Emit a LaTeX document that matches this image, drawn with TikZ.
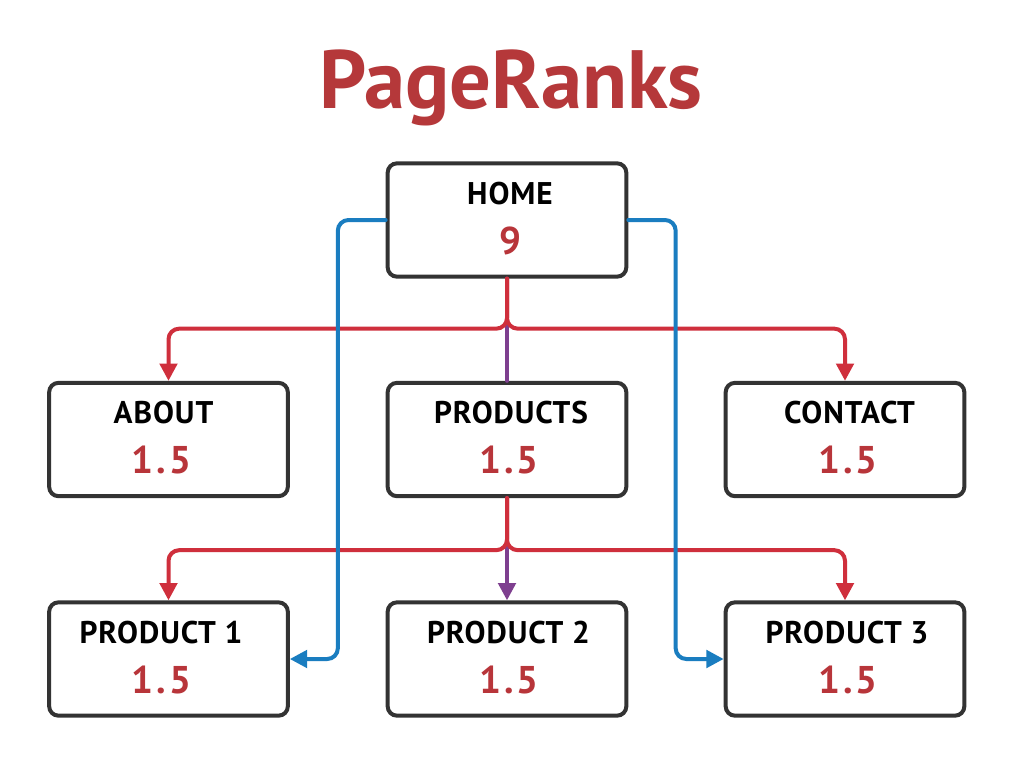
\documentclass[tikz,border=0pt]{standalone}
\usepackage{fontspec}
\setmainfont{PT Sans}
\newfontfamily\lblfont[LetterSpace=3]{PT Sans}
\newfontfamily\numfont[LetterSpace=8]{PT Sans}
\usetikzlibrary{arrows.meta,calc}
\definecolor{boxgray}{HTML}{333333}
\definecolor{titlered}{HTML}{B5383A}
\definecolor{numred}{HTML}{B8353A}
\definecolor{linered}{HTML}{CF2F3C}
\definecolor{lineblue}{HTML}{1A7DC0}
\definecolor{linepurple}{HTML}{7E3F8F}
\tikzset{
  pagebox/.style={draw=boxgray, line width=3pt, rounded corners=7pt, fill=white,
    minimum width=179pt, minimum height=85pt, inner sep=0pt},
  lbl/.style={anchor=base, inner sep=0pt, font=\lblfont\fontsize{23.5}{28}\selectfont\bfseries, text=black},
  num/.style={anchor=base, inner sep=0pt, font=\numfont\fontsize{29}{34}\selectfont\bfseries, text=numred},
  conn/.style={line width=3pt, rounded corners=8pt, line cap=round},
  tip/.style={-{Triangle[length=13pt,width=13pt]}},
  redline/.style={conn, draw=linered},
  blueline/.style={conn, draw=lineblue},
  purpleline/.style={conn, draw=linepurple},
}
\begin{document}
\begin{tikzpicture}[x=0.75pt,y=-0.75pt]
\useasboundingbox (0,0) rectangle (1024,764);
\fill[white] (0,0) rectangle (1024,764);

\node[anchor=base, inner sep=0pt, text=titlered, font=\fontsize{62}{70}\selectfont\bfseries] (title) at (511,108) {PageRanks};

\node[pagebox] (home) at (507,220) {};
\node[pagebox] (about) at (168.5,439.5) {};
\node[pagebox] (products) at (507,439.5) {};
\node[pagebox] (contact) at (845,439.5) {};
\node[pagebox] (p1) at (168.5,659) {};
\node[pagebox] (p2) at (507,659) {};
\node[pagebox] (p3) at (845,659) {};

\foreach \n/\t/\v/\dx/\nx in {home/HOME/9/3/3, about/ABOUT/1.5/-5/-7, products/PRODUCTS/1.5/4/2, contact/CONTACT/1.5/4.5/3, p1/PRODUCT 1/1.5/-7.5/-7, p2/PRODUCT 2/1.5/1.5/2, p3/PRODUCT 3/1.5/2/3}{
  \node[lbl] (\n-lbl) at ($(\n.center)+(\dx,-16)$) {\t};
  \node[num] (\n-num) at ($(\n.center)+(\nx,34)$) {\v};
}

% purple verticals
\draw[purpleline] (home.south) -- (products.north);
\draw[purpleline, tip] (products.south) -- (p2.north);

% red branches
\draw[redline, tip] (home.south) -- ++(0,50) -| (about.north);
\draw[redline, tip] (home.south) -- ++(0,50) -| (contact.north);
\draw[redline, tip] (products.south) -- ++(0,52) -| (p1.north);
\draw[redline, tip] (products.south) -- ++(0,52) -| (p3.north);

% blue links
\draw[blueline, tip] (home.west) -| ($(p1.east)+(48,0)$) -- (p1.east);
\draw[blueline, tip] (home.east) -| ($(p3.west)+(-48,0)$) -- (p3.west);
\end{tikzpicture}
\end{document}
